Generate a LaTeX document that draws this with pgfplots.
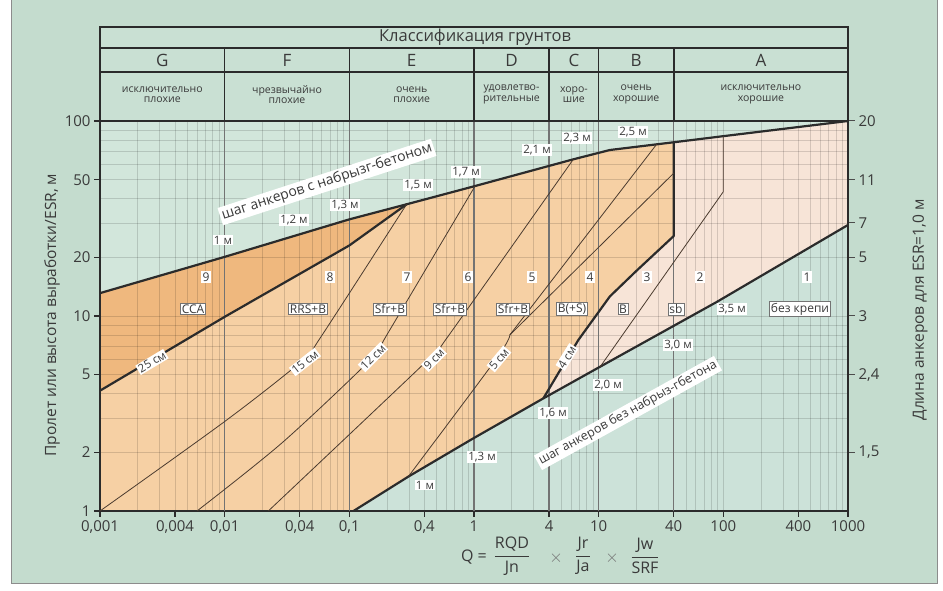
\documentclass[border=0pt]{standalone}
\usepackage{pgfplots}
\pgfplotsset{compat=1.18}
\usepackage{fontspec}
\setmainfont{Open Sans}
\definecolor{panel}{HTML}{C4DCCE}
\definecolor{headfill}{HTML}{C9E0D3}
\definecolor{gtop}{HTML}{D2E6DB}
\definecolor{gbot}{HTML}{CCE2D9}
\definecolor{ora}{HTML}{F6D0A4}
\definecolor{ora9}{HTML}{EFB87E}
\definecolor{peach}{HTML}{F7E4D7}
\definecolor{ink}{HTML}{2B2B2B}
\definecolor{txt}{HTML}{3A3A3A}
\definecolor{thinc}{HTML}{4A3A2E}
\newcommand{\fs}[1]{\fontsize{#1}{#1}\selectfont}
\tikzset{
  thk/.style={line width=2.2pt, ink, line join=round},
  thn/.style={line width=0.8pt, thinc},
  lab/.style={fill=white, inner sep=1.3pt, font=\fs{12}, text=txt},
  box/.style={lab, draw=black!55, line width=0.5pt},
  rl/.style={fill=white, inner sep=1.2pt, font=\fs{11.5}, text=txt},
}
\begin{document}
\begin{tikzpicture}[x=1pt,y=1pt]
\path[use as bounding box] (-100,-80) rectangle (843,511);
\fill[white] (-100,-80) rectangle (843,511);
\fill[panel] (-89,-72) rectangle (837,511);
\draw[black!45, line width=0.8pt] (-89,511) -- (-89,-72) -- (837,-72) -- (837,511);
\fill[headfill] (0,390) rectangle (748,484);

% ---------- fills ----------
\begin{axis}[at={(0pt,0pt)}, anchor=south west, scale only axis,
    width=748pt, height=390pt, xmode=log, ymode=log,
    xmin=0.001, xmax=1000, ymin=1, ymax=100, hide axis]
\addplot[fill=gtop, draw=none] coordinates {(0.001,13.1) (0.01,20.1) (0.1,31.3) (0.288,37.4) (1.02,46.4) (6.26,63.6) (12.3,71) (40,77.8) (100,83.6) (1000,100) (0.001,100) (0.001,13.1)};
\addplot[fill=gbot, draw=none] coordinates {(0.108,1) (0.297,1.5) (0.99,2.36) (3.6,3.78) (10.3,5.5) (88.5,11.8) (1000,29.3) (1000,1) (0.108,1)};
\addplot[fill=ora, draw=none] coordinates {(0.001,1) (0.108,1) (0.297,1.5) (0.99,2.36) (3.6,3.78) (4.74,5.08) (6.87,7.53) (12.3,12.6) (20,17) (40,25.7) (40,77.8) (12.3,71) (6.26,63.6) (1.02,46.4) (0.288,37.4) (0.1,31.3) (0.01,20.1) (0.001,13.1) (0.001,1)};
\addplot[fill=peach, draw=none] coordinates {(3.6,3.78) (10.3,5.5) (88.5,11.8) (1000,29.3) (1000,100) (100,83.6) (40,77.8) (40,25.7) (20,17) (12.3,12.6) (6.87,7.53) (4.74,5.08) (3.6,3.78)};
\addplot[fill=ora9, draw=none] coordinates {(0.001,13.1) (0.01,20.1) (0.1,31.3) (0.288,37.4) (0.1,23) (0.01,9.9) (0.001,4.14) (0.001,13.1)};
\end{axis}

% ---------- grid, curves, ticks ----------
\begin{axis}[at={(0pt,0pt)}, anchor=south west, scale only axis,
  width=748pt, height=390pt, xmode=log, ymode=log,
  xmin=0.001, xmax=1000, ymin=1, ymax=100,
  axis line style={line width=2pt, ink},
  tick pos=left, tick align=outside, major tick length=6pt,
  tick style={ink, line width=1.2pt}, minor tick length=0pt,
  xtick={0.001,0.004,0.01,0.04,0.1,0.4,1,4,10,40,100,400,1000},
  xticklabels={{0,001},{0,004},{0,01},{0,04},{0,1},{0,4},1,4,10,40,100,400,1000},
  ytick={1,2,5,10,20,50,100},
  yticklabels={1,2,5,10,20,50,100},
  xticklabel style={font=\fs{15}, text=txt},
  yticklabel style={font=\fs{15}, text=txt},
  minor xtick={0.002,0.003,0.004,0.005,0.006,0.007,0.008,0.009,0.02,0.03,0.04,0.05,0.06,0.07,0.08,0.09,0.2,0.3,0.4,0.5,0.6,0.7,0.8,0.9,2,3,5,6,7,8,9,20,30,50,60,70,80,90,100,200,300,400,500,600,700,800,900},
  minor ytick={2,3,4,5,6,7,8,9,10,20,30,40,50,60,70,80,90},
  xminorgrids=true, yminorgrids=true,
  minor grid style={black, opacity=0.14, line width=0.6pt},
  extra x ticks={0.01,0.1,1,4,10,40},
  extra x tick labels={},
  extra x tick style={grid=major, major grid style={black!55, line width=1.2pt}, major tick length=0pt},
]
\addplot[thk] coordinates {(0.001,13.1) (0.01,20.1) (0.1,31.3) (0.288,37.4) (1.02,46.4) (6.26,63.6) (12.3,71) (40,77.8) (100,83.6) (1000,100)};
\addplot[thk] coordinates {(0.108,1) (0.297,1.5) (0.99,2.36) (3.6,3.78) (10.3,5.5) (88.5,11.8) (1000,29.3)};
\addplot[thk] coordinates {(0.001,4.14) (0.01,9.9) (0.1,23) (0.288,37.4)};
\addplot[thk] coordinates {(3.6,3.78) (4.74,5.08) (6.87,7.53) (12.3,12.6) (20,17) (40,25.7) (40,77.8)};
\addplot[thn, smooth] coordinates {(0.001,1) (0.0104,2.93) (0.0425,5.95) (0.0582,7.69) (0.288,37.4)};
\addplot[thn, smooth] coordinates {(0.006,1) (0.0294,2.26) (0.155,6.16) (0.2,8.0) (1.02,46.4)};
\addplot[thn, smooth] coordinates {(0.0224,1) (0.443,6.09) (0.604,7.69) (6.26,63.6)};
\addplot[thn, smooth] coordinates {(0.297,1.5) (1.52,6.07) (1.94,8.0)};
\addplot[thn] coordinates {(1.94,8.0) (29.2,76)};
\addplot[thn] coordinates {(1.94,8.0) (40,54)};
\addplot[thn] coordinates {(10.3,5.5) (100,43.4) (100,83.6)};
\end{axis}

% ---------- right axis ----------
\begin{axis}[at={(0pt,0pt)}, anchor=south west, scale only axis,
  width=748pt, height=390pt, xmode=log, ymode=log,
  xmin=0.001, xmax=1000, ymin=1, ymax=100,
  hide x axis, axis y line*=right,
  axis line style={line width=2pt, ink},
  tick align=outside, major tick length=7pt, minor tick length=0pt,
  tick style={black!70, line width=1pt},
  ytick={2,5,10,20,30,50,100},
  yticklabels={{1,5},{2,4},3,5,7,11,20},
  yticklabel style={font=\fs{15}, text=txt},
]
\addplot[draw=none] coordinates {(1,1) (10,10)};
\end{axis}

% ---------- header ----------
\draw[ink, line width=1.8pt] (0,390) rectangle (748,484);
\draw[ink, line width=1.6pt] (0,463) -- (748,463) (0,439) -- (748,439);
\foreach \x in {124.67,249.33,374,449.06,498.67,573.73} \draw[ink, line width=1.6pt] (\x,390) -- (\x,463);
\node[font=\fs{16.5}, text=txt] at (375,473.5) {Классификация грунтов};
\foreach \x/\l in {62.3/G,187/F,311.7/E,411.5/D,473.9/C,536.2/B,660.9/A}
  \node[font=\fs{17}, text=txt] at (\x,451) {\l};
\begin{scope}[every node/.style={font=\fs{10.5}, text=txt, align=center}]
\node at (62.3,416.5) {исключительно\\плохие};
\node at (187,416.5) {чрезвычайно\\плохие};
\node at (311.7,416.5) {очень\\плохие};
\node at (411.5,416.5) {удовлетво-\\рительные};
\node at (473.9,416.5) {хоро-\\шие};
\node at (536.2,416.5) {очень\\хорошие};
\node at (660.9,416.5) {исключительно\\хорошие};
\end{scope}

% ---------- axis titles ----------
\node[rotate=90, font=\fs{15.5}, text=txt] at (-48,196) {Пролет или высота выработки/ESR, м};
\node[rotate=90, font=\fs{15.5}, text=txt] at (820,201) {Длина анкеров для ESR=1,0 м};
\begin{scope}[every node/.style={font=\fs{16}, text=txt, inner sep=1pt}]
\node at (374,-46) {Q =};
\node at (412,-45) {$\displaystyle\frac{\mbox{RQD}}{\mbox{Jn}}$};
\node[text=black!55] at (456,-47) {$\times$};
\node at (483,-45) {$\displaystyle\frac{\mbox{Jr}}{\mbox{Ja}}$};
\node[text=black!55] at (512,-47) {$\times$};
\node at (545,-45) {$\displaystyle\frac{\mbox{Jw}}{\mbox{SRF}}$};
\end{scope}

% ---------- spacing labels ----------
\node[rl] at (123,271) {1 м};
\node[rl] at (194,291) {1,2 м};
\node[rl] at (245,306) {1,3 м};
\node[rl] at (318,326) {1,5 м};
\node[rl] at (366,339) {1,7 м};
\node[rl] at (437,361) {2,1 м};
\node[rl] at (477,373) {2,3 м};
\node[rl] at (533,379) {2,5 м};
\node[rl] at (325,26) {1 м};
\node[rl] at (382,54) {1,3 м};
\node[rl] at (453,98) {1,6 м};
\node[rl] at (508,126) {2,0 м};
\node[rl] at (578,166) {3,0 м};
\node[rl] at (632,202) {3,5 м};

% ---------- region numbers and boxes ----------
\foreach \x/\l in {106/9,230/8,307/7,368/6,432/5,490/4,547/3,600/2,707/1}
  \node[lab] at (\x,234) {\l};
\node[box] at (93,202) {CCA};
\node[box] at (208,202) {RRS+B};
\node[box] at (290,202) {Sfr+B};
\node[box] at (350,202) {Sfr+B};
\node[box] at (413,202) {Sfr+B};
\node[box] at (472,202) {B(+S)};
\node[box] at (523,202) {B};
\node[box] at (576,202) {sb};
\node[box] at (700,202) {без крепи};

% ---------- thickness labels ----------
\node[rl, rotate=31] at (52,149) {25 см};
\node[rl, rotate=38] at (205,149) {15 см};
\node[rl, rotate=45] at (273,154) {12 см};
\node[rl, rotate=45] at (334,152) {9 см};
\node[rl, rotate=50] at (399,152) {5 см};
\node[rl, rotate=58] at (467,154) {4 см};

% ---------- long labels ----------
\node[fill=white, inner sep=2pt, font=\fs{14}, text=txt, rotate=18] at (227,329) {шаг анкеров с набрызг-бетоном};
\node[fill=white, inner sep=2pt, font=\fs{12.5}, text=txt, rotate=29] at (528,98) {шаг анкеров без набрыз-гбетона};
\end{tikzpicture}
\end{document}
